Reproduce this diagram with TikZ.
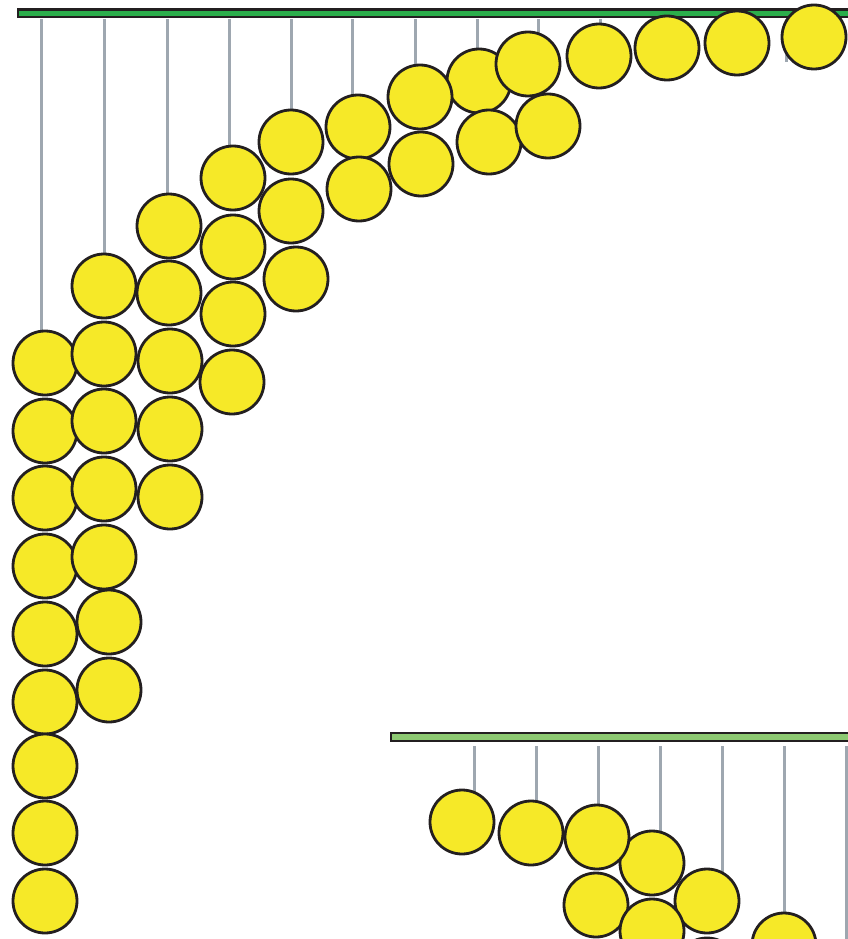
\documentclass[tikz,border=0pt]{standalone}
\usetikzlibrary{backgrounds}
\definecolor{ballyellow}{HTML}{F6E928}
\definecolor{outline}{HTML}{231F20}
\definecolor{stringgray}{HTML}{9EA7B0}
\definecolor{topgreen}{HTML}{2BAE4B}
\definecolor{botgreen}{HTML}{8DC972}
\tikzset{
  x=1pt, y=-1pt,
  ball/.style={circle, draw=outline, fill=ballyellow, line width=2.8pt, minimum size=64pt, inner sep=0pt},
  thread/.style={draw=stringgray, line width=3pt},
  rail/.style={draw=outline, line width=2.2pt},
}
\begin{document}
\begin{tikzpicture}
\useasboundingbox (0,0) rectangle (848,939);
% rails
\path[rail, fill=topgreen] (18,9.5) rectangle (870,17);
\path[rail, fill=botgreen] (391,733) rectangle (870,741);
% thread anchors
\foreach \i/\xx in {0/41,1/104,2/167,3/229,4/291,5/352,6/415,7/477,8/538,9/600,10/662,11/724,12/786}
  \coordinate (t\i) at (\xx,19);
\foreach \i/\xx in {1/474,2/536,3/598,4/660,5/722,6/784,7/846}
  \coordinate (u\i) at (\xx,746);
% top balls
\node[ball] (c7a) at (479,81) {};
\node[ball] (c0a) at (45,363) {};
\node[ball] (c0b) at (45,431) {};
\node[ball] (c0c) at (45,498) {};
\node[ball] (c0d) at (45,566) {};
\node[ball] (c0e) at (45,634) {};
\node[ball] (c0f) at (45,702) {};
\node[ball] (c0g) at (45,766) {};
\node[ball] (c0h) at (45,833) {};
\node[ball] (c0i) at (45,901) {};
\node[ball] (c1a) at (104,286) {};
\node[ball] (c1b) at (104,354) {};
\node[ball] (c1c) at (104,421) {};
\node[ball] (c1d) at (104,489) {};
\node[ball] (c1e) at (104,557) {};
\node[ball] (c1f) at (109,622) {};
\node[ball] (c1g) at (109,690) {};
\node[ball] (c2a) at (169,226) {};
\node[ball] (c2b) at (169,293) {};
\node[ball] (c2c) at (170,361) {};
\node[ball] (c2d) at (170,429) {};
\node[ball] (c2e) at (170,497) {};
\node[ball] (c3a) at (233,178) {};
\node[ball] (c3b) at (233,247) {};
\node[ball] (c3c) at (233,314) {};
\node[ball] (c3d) at (232,382) {};
\node[ball] (c4a) at (291,142) {};
\node[ball] (c4b) at (291,211) {};
\node[ball] (c4c) at (296,279) {};
\node[ball] (c5a) at (358,127) {};
\node[ball] (c5b) at (359,189) {};
\node[ball] (c6a) at (420,97) {};
\node[ball] (c6b) at (421,164) {};
\node[ball] (c7b) at (489,142) {};
\node[ball] (c8b) at (548,126) {};
\node[ball] (c8a) at (528,64) {};
\node[ball] (c9a) at (599,56) {};
\node[ball] (c10a) at (667,48) {};
\node[ball] (c11a) at (737,43) {};
\node[ball] (c12a) at (814,37) {};
\coordinate (e12) at (786,62);
% bottom balls
\node[ball] (b1) at (462,822) {};
\node[ball] (b2) at (531,833) {};
\node[ball] (b4) at (652,863) {};
\node[ball] (b3) at (597,837) {};
\node[ball] (b5) at (707,901) {};
\node[ball] (b6) at (596,905) {};
\node[ball] (b8) at (707,970) {};
\node[ball] (b7) at (652,931) {};
\node[ball] (b9) at (784,945) {};
\coordinate (e7) at (846,950);
% threads
\begin{pgfonlayer}{background}
\draw[thread] (t0) -- (t0 |- c0a.center);
\draw[thread] (t1) -- (t1 |- c1a.center);
\draw[thread] (t2) -- (t2 |- c2a.center);
\draw[thread] (t3) -- (t3 |- c3a.center);
\draw[thread] (t4) -- (t4 |- c4a.center);
\draw[thread] (t5) -- (t5 |- c5a.center);
\draw[thread] (t6) -- (t6 |- c6a.center);
\draw[thread] (t7) -- (t7 |- c7a.center);
\draw[thread] (t8) -- (t8 |- c8a.center);
\draw[thread] (t9) -- (t9 |- c9a.center);
\draw[thread] (t10) -- (t10 |- c10a.center);
\draw[thread] (t11) -- (t11 |- c11a.center);
\draw[thread] (t12) -- (e12);
\draw[thread] (u1) -- (u1 |- b1.center);
\draw[thread] (u2) -- (u2 |- b2.center);
\draw[thread] (u3) -- (u3 |- b3.center);
\draw[thread] (u4) -- (u4 |- b4.center);
\draw[thread] (u5) -- (u5 |- b5.center);
\draw[thread] (u6) -- (u6 |- b9.center);
\draw[thread] (u7) -- (e7);
\end{pgfonlayer}
\end{tikzpicture}
\end{document}
